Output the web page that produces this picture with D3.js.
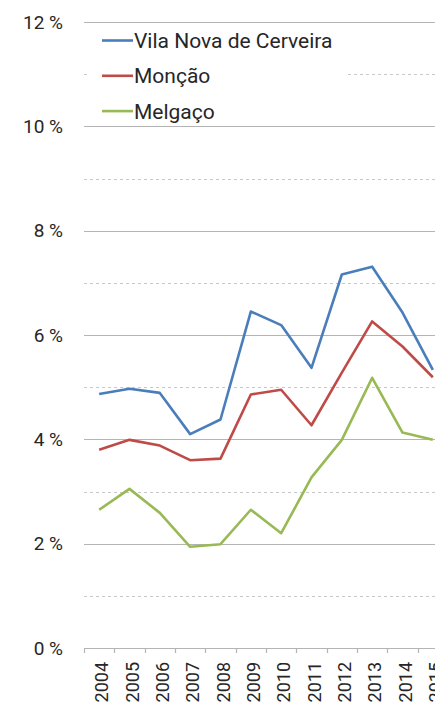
<!DOCTYPE html>
<html>
<head>
<meta charset="utf-8">
<script src="https://cdn.jsdelivr.net/npm/d3@7"></script>
<style>
  body { margin: 0; background: #fff; }
  svg { display: block; overflow: hidden; }
  text { font-family: Roboto, "DejaVu Sans", sans-serif; fill: #262626; }
</style>
</head>
<body>
<svg id="chart" width="435" height="706"></svg>
<script>
// data
var years = ["2004", "2005", "2006", "2007", "2008", "2009", "2010", "2011", "2012", "2013", "2014", "2015"];
var cerveira = [4.87, 4.97, 4.89, 4.10, 4.38, 6.45, 6.19, 5.37, 7.16, 7.31, 6.43, 5.33];
var moncao   = [3.80, 3.99, 3.88, 3.60, 3.63, 4.86, 4.95, 4.27, 5.28, 6.26, 5.78, 5.19];
var melgaco  = [2.65, 3.05, 2.59, 1.94, 1.99, 2.65, 2.20, 3.27, 3.99, 5.18, 4.13, 3.99];
var seriesNames = ["Vila Nova de Cerveira", "Monção", "Melgaço"];
var seriesColors = ["#4a7ebb", "#be4b48", "#98b954"];
var majorTicks = [0, 2, 4, 6, 8, 10, 12];
var minorTicks = [1, 3, 5, 7, 9, 11];

var Config = {
  Left: 84,
  Right: 448,   // plot runs past the window edge, as in the picture
  Top: 22,
  Bottom: 648,
  LineWidth: 2.6,
};

var svg = d3.select("#chart");

var x = d3.scaleBand().domain(years).range([Config.Left, Config.Right]);
var y = d3.scaleLinear().domain([0, 12]).range([Config.Bottom, Config.Top]);

// minor grid (dashed)
svg.append("g")
  .selectAll("line")
  .data(minorTicks)
  .enter()
  .append("line")
  .attr("x1", Config.Left)
  .attr("x2", Config.Right)
  .attr("y1", function (d) { return Math.round(y(d)) + 0.5; })
  .attr("y2", function (d) { return Math.round(y(d)) + 0.5; })
  .attr("stroke", "#c8c8c8")
  .attr("stroke-dasharray", "3,3");

// major grid
svg.append("g")
  .selectAll("line")
  .data(majorTicks)
  .enter()
  .append("line")
  .attr("x1", Config.Left)
  .attr("x2", Config.Right)
  .attr("y1", function (d) { return Math.round(y(d)) + 0.5; })
  .attr("y2", function (d) { return Math.round(y(d)) + 0.5; })
  .attr("stroke", "#b4b4b4")
  .attr("stroke-width", 1.2);

// y labels
svg.append("g")
  .selectAll("text")
  .data(majorTicks)
  .enter()
  .append("text")
  .attr("x", 63)
  .attr("y", function (d) { return y(d) + 6.5; })
  .attr("text-anchor", "end")
  .style("font-size", "19px")
  .text(function (d) { return d + " %"; });

// x axis ticks at band edges
var edges = years.map(function (d) { return x(d); }).concat([Config.Right]);
svg.append("g")
  .selectAll("line")
  .data(edges)
  .enter()
  .append("line")
  .attr("x1", function (d) { return Math.round(d) + 0.5; })
  .attr("x2", function (d) { return Math.round(d) + 0.5; })
  .attr("y1", Config.Bottom)
  .attr("y2", Config.Bottom + 5)
  .attr("stroke", "#b4b4b4")
  .attr("stroke-width", 1.2);

// year labels, rotated
svg.append("g")
  .selectAll("text")
  .data(years)
  .enter()
  .append("text")
  .attr("transform", function (d) {
    return "translate(" + (x(d) + x.bandwidth() / 2 + 9) + "," + (Config.Bottom + 14) + ") rotate(-90)";
  })
  .attr("text-anchor", "end")
  .style("font-size", "18px")
  .text(function (d) { return d; });

// lines
var line = d3.line()
  .x(function (d, i) { return x(years[i]) + x.bandwidth() / 2; })
  .y(function (d) { return y(d); });

[cerveira, moncao, melgaco].forEach(function (s, k) {
  svg.append("path")
    .datum(s)
    .attr("d", line)
    .attr("fill", "none")
    .attr("stroke", seriesColors[k])
    .attr("stroke-width", Config.LineWidth)
    .attr("stroke-linejoin", "round");
});

// legend
svg.append("rect")
  .attr("x", 90)
  .attr("y", 26)
  .attr("width", 258)
  .attr("height", 96)
  .attr("fill", "#fff");

var legend = svg.append("g")
  .selectAll("g")
  .data(seriesNames)
  .enter()
  .append("g")
  .attr("transform", function (d, i) { return "translate(102," + (40.5 + i * 35.3) + ")"; });

legend.append("line")
  .attr("x1", 0)
  .attr("x2", 31)
  .attr("stroke", function (d, i) { return seriesColors[i]; })
  .attr("stroke-width", Config.LineWidth);

legend.append("text")
  .attr("x", 32)
  .attr("y", 7.5)
  .style("font-size", "21px")
  .text(function (d) { return d; });
</script>
</body>
</html>
